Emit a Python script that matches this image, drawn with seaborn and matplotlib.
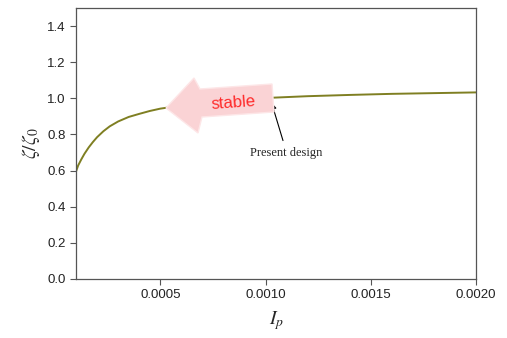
import matplotlib
matplotlib.use("Agg")
import matplotlib.pyplot as plt
from matplotlib.patches import Polygon
import seaborn as sns

# curve
ip = [0.0001, 0.00011, 0.000125, 0.00014, 0.00016, 0.00018, 0.0002, 0.00023,
      0.00026, 0.0003, 0.00035, 0.0004, 0.00045, 0.0005, 0.0006, 0.0007,
      0.0008, 0.0009, 0.0010, 0.0012, 0.0014, 0.0016, 0.0018, 0.0020]
ratio = [0.595, 0.628, 0.662, 0.693, 0.728, 0.758, 0.785, 0.818,
         0.845, 0.872, 0.897, 0.914, 0.93, 0.943, 0.96, 0.974,
         0.985, 0.995, 1.002, 1.012, 1.019, 1.025, 1.029, 1.033]
xticks = [0.0005, 0.0010, 0.0015, 0.0020]
yticks = [0.0, 0.2, 0.4, 0.6, 0.8, 1.0, 1.2, 1.4]

sns.set_style("ticks")
plt.rcParams["font.family"] = ["Liberation Sans", "DejaVu Sans"]
plt.rcParams["mathtext.fontset"] = "stix"

fig = plt.figure(figsize=(5.07, 3.38), dpi=100)
ax = fig.add_axes([0.150, 0.175, 0.789, 0.801])

sns.lineplot(x=ip, y=ratio, ax=ax, color="#7f7f22", linewidth=1.4)
ax.set_xlim(0.0001, 0.002)
ax.set_ylim(0, 1.5)
ax.set_xticks(xticks)
ax.set_xticklabels([f"{v:.4f}" for v in xticks])
ax.set_yticks(yticks)
ax.set_yticklabels([f"{v:.1f}" for v in yticks])
ax.tick_params(colors="#555555", labelcolor="#222222", labelsize=9.5, length=4, width=0.8)
for s in ax.spines.values():
    s.set_visible(True)
    s.set_color("#555555")
    s.set_linewidth(0.9)

ax.set_xlabel(r"$I_p$", fontsize=14, labelpad=6)
ax.set_ylabel(r"$\zeta/\zeta_0$", fontsize=14, labelpad=4)

# big pink "stable" arrow (pixel coords -> figure fraction)
W, H = 507, 338
pts = [(272, 84), (200, 89), (194, 78), (166, 108), (198, 133), (202, 117), (274, 112)]
poly = Polygon([(x / W, 1 - y / H) for x, y in pts], closed=True,
               transform=fig.transFigure, facecolor="#fad3d5", edgecolor="#fde6e7",
               lw=1.0, zorder=5)
fig.patches.append(poly)
fig.text(233 / W, 1 - 103 / H, "stable", color="#ff2a2a", fontsize=12,
         rotation=4, ha="center", va="center", zorder=6)

ax.annotate("Present design", xy=(0.001025, 0.99), xytext=(0.00110, 0.70),
            ha="center", va="center", fontsize=9, family=["Liberation Serif", "DejaVu Serif"],
            arrowprops=dict(arrowstyle="-|>", color="black", lw=0.8, mutation_scale=9))

fig.savefig("out.png", dpi=100)
